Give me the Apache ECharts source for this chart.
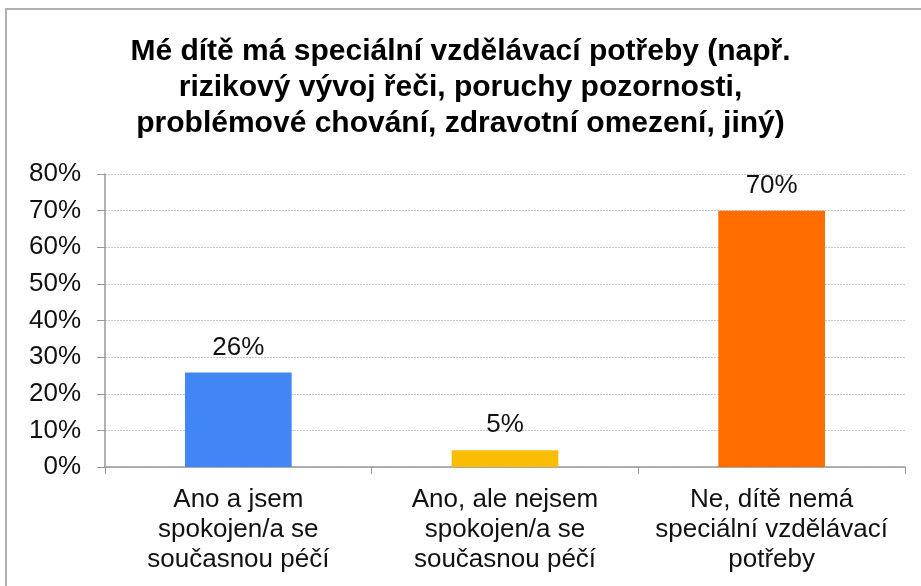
<!DOCTYPE html>
<html>
    <head>
        <meta charset="UTF-8">
        <script src="https://cdn.jsdelivr.net/npm/echarts@6/dist/echarts.min.js"></script>
        <style>
            body { margin: 0; background: #fff; }
            #frame { position: absolute; left: 5px; top: 8px; width: 930px; height: 600px; border: 2px solid #b0b0b0; box-sizing: border-box; }
            #chart { position: absolute; left: 0; top: 0; width: 921px; height: 586px; }
        </style>
    </head>
    <body>
        <div id="frame"></div>
        <div id="chart"></div>
        <script>
            const titleText = 'Mé dítě má speciální vzdělávací potřeby (např.\nrizikový vývoj řeči, poruchy pozornosti,\nproblémové chování, zdravotní omezení, jiný)';
            const categories = ['Ano a jsem\nspokojen/a se\nsoučasnou péčí', 'Ano, ale nejsem\nspokojen/a se\nsoučasnou péčí', 'Ne, dítě nemá\nspeciální vzdělávací\npotřeby'];
            const values = [25.8, 4.6, 70];
            const labels = ['26%', '5%', '70%'];
            const colors = ['#4285f4', '#fbbc04', '#ff6d01'];

            const chart = echarts.init(document.getElementById('chart'));
            chart.setOption({
                animation: false,
                textStyle: { fontFamily: 'Liberation Sans, Arial, sans-serif' },
                title: {
                    text: titleText,
                    left: 'center',
                    top: 29,
                    textStyle: { fontSize: 30, fontWeight: 'bold', color: '#000', lineHeight: 36 }
                },
                grid: { left: 105, right: 16, top: 174, bottom: 119 },
                xAxis: {
                    type: 'category',
                    data: categories,
                    axisLine: { lineStyle: { color: '#999', width: 1.5 } },
                    axisTick: { show: true, length: 7, lineStyle: { color: '#999' } },
                    axisLabel: { fontSize: 26, color: '#111', lineHeight: 30, margin: 18, interval: 0, hideOverlap: false }
                },
                yAxis: {
                    type: 'value',
                    min: 0,
                    max: 80,
                    interval: 10,
                    axisLine: { show: true, lineStyle: { color: '#999', width: 1.5 } },
                    axisTick: { show: true, length: 8, lineStyle: { color: '#999' } },
                    axisLabel: { fontSize: 26, color: '#111', margin: 24, formatter: '{value}%' },
                    splitLine: { lineStyle: { color: '#c8c8c8', type: [2, 1] } }
                },
                series: [{
                    type: 'bar',
                    barWidth: '40%',
                    data: values.map((v, i) => ({ value: v, itemStyle: { color: colors[i] } })),
                    label: {
                        show: true,
                        position: 'top',
                        distance: 12,
                        fontSize: 26,
                        color: '#111',
                        formatter: p => labels[p.dataIndex]
                    }
                }]
            });
        </script>
    </body>
</html>
